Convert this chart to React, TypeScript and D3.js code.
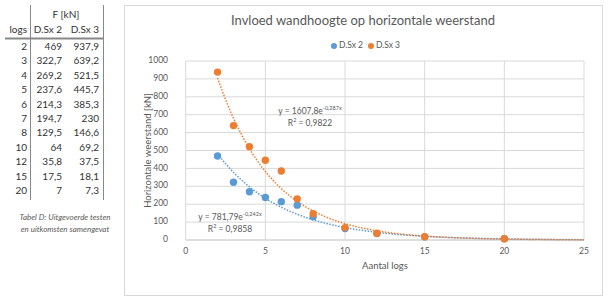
import { useEffect, useRef } from "react";
import * as d3 from "d3";

// Test results: number of logs and horizontal resistance F [kN]
const logs = [2, 3, 4, 5, 6, 7, 8, 10, 12, 15, 20];
const dsx2 = [469, 322.7, 269.2, 237.6, 214.3, 194.7, 129.5, 64, 35.8, 17.5, 7];
const dsx3 = [937.9, 639.2, 521.5, 445.7, 385.3, 230, 146.6, 69.2, 37.5, 18.1, 7.3];
const dsx2Labels = ["469", "322,7", "269,2", "237,6", "214,3", "194,7", "129,5", "64", "35,8", "17,5", "7"];
const dsx3Labels = ["937,9", "639,2", "521,5", "445,7", "385,3", "230", "146,6", "69,2", "37,5", "18,1", "7,3"];

// Exponential trendlines y = a * e^(b x)
const fit2 = { a: 781.79, b: -0.242, eq: "781,79", exp: "-0,242x", r2: "0,9858" };
const fit3 = { a: 1607.8, b: -0.287, eq: "1607,8", exp: "-0,287x", r2: "0,9822" };
const xTicks = [0, 5, 10, 15, 20, 25];
const yTicks = [0, 100, 200, 300, 400, 500, 600, 700, 800, 900, 1000];

const BLUE = "#5B9BD5";
const ORANGE = "#ED7D31";
const GREY = "#595959";
const FONT = "Lato, 'Open Sans', sans-serif";

const App = () => {
  const svgRef = useRef<SVGSVGElement>(null);

  useEffect(() => {
    if (!svgRef.current) return;
    const svg = d3.select(svgRef.current);
    svg.selectAll("*").remove();
    svg.style("font-family", FONT);

    // ---- table on the left ----
    const tbl = svg.append("g");
    const rowY0 = 47.5;
    const rowH = 14.4;
    tbl.append("line").attr("x1", 30.5).attr("x2", 30.5).attr("y1", 5).attr("y2", 200).attr("stroke", "#888").attr("stroke-width", 1);
    tbl.append("line").attr("x1", 103.5).attr("x2", 103.5).attr("y1", 5).attr("y2", 200).attr("stroke", "#888").attr("stroke-width", 1);
    tbl.append("line").attr("x1", 5).attr("x2", 104).attr("y1", 38.5).attr("y2", 38.5).attr("stroke", "#888").attr("stroke-width", 2);
    tbl.append("text").attr("x", 66).attr("y", 15).attr("text-anchor", "middle").attr("dominant-baseline", "middle")
      .attr("font-size", 10).attr("fill", "#333").text("F [kN]");
    tbl.append("text").attr("x", 27).attr("y", 30).attr("text-anchor", "end").attr("dominant-baseline", "middle")
      .attr("font-size", 10).attr("fill", "#333").text("logs");
    tbl.append("text").attr("x", 62).attr("y", 30).attr("text-anchor", "end").attr("dominant-baseline", "middle")
      .attr("font-size", 10).attr("fill", "#333").text("D.Sx 2");
    tbl.append("text").attr("x", 99).attr("y", 30).attr("text-anchor", "end").attr("dominant-baseline", "middle")
      .attr("font-size", 10).attr("fill", "#333").text("D.Sx 3");
    logs.forEach((n, i) => {
      const y = rowY0 + i * rowH;
      const cells: [number, string][] = [[27, String(n)], [62, dsx2Labels[i]], [99, dsx3Labels[i]]];
      cells.forEach(([x, t]) => {
        tbl.append("text").attr("x", x).attr("y", y).attr("text-anchor", "end").attr("dominant-baseline", "middle")
          .attr("font-size", 10).attr("fill", "#333").text(t);
      });
    });
    ["Tabel D: Uitgevoerde testen", "en uitkomsten samengevat"].forEach((t, i) => {
      tbl.append("text").attr("x", 65).attr("y", 218 + i * 12).attr("text-anchor", "middle").attr("dominant-baseline", "middle")
        .attr("font-size", 8).attr("font-style", "italic").attr("fill", GREY).text(t);
    });

    // ---- chart frame ----
    svg.append("rect").attr("x", 124.5).attr("y", 5.5).attr("width", 478).attr("height", 290)
      .attr("fill", "#fff").attr("stroke", "#D9D9D9");

    svg.append("text").attr("x", 363).attr("y", 22).attr("text-anchor", "middle").attr("dominant-baseline", "middle")
      .attr("font-size", 13.5).attr("textLength", 264).attr("lengthAdjust", "spacingAndGlyphs")
      .attr("fill", GREY).text("Invloed wandhoogte op horizontale weerstand");

    // legend
    const legend = [["D.Sx 2", BLUE, 334], ["D.Sx 3", ORANGE, 371]] as const;
    legend.forEach(([label, color, x]) => {
      svg.append("circle").attr("cx", x).attr("cy", 46).attr("r", 3).attr("fill", color);
      svg.append("text").attr("x", x + 5).attr("y", 46).attr("dominant-baseline", "middle")
        .attr("font-size", 8.5).attr("fill", GREY).text(label);
    });

    const x = d3.scaleLinear().domain([0, 25]).range([185.7, 584]);
    const y = d3.scaleLinear().domain([0, 1000]).range([240, 61]);

    const grid = svg.append("g");
    grid.selectAll(".hg").data(yTicks).enter().append("line")
      .attr("x1", x(0)).attr("x2", x(25)).attr("y1", (d) => y(d)).attr("y2", (d) => y(d))
      .attr("stroke", (d) => (d === 0 ? "#BFBFBF" : "#D9D9D9")).attr("stroke-width", 1);
    grid.selectAll(".vg").data(xTicks).enter().append("line")
      .attr("x1", (d) => x(d)).attr("x2", (d) => x(d)).attr("y1", y(0)).attr("y2", y(1000))
      .attr("stroke", "#D9D9D9").attr("stroke-width", 1);

    svg.selectAll(".yt").data(yTicks).enter().append("text")
      .attr("x", 168).attr("y", (d) => y(d)).attr("text-anchor", "end").attr("dominant-baseline", "middle")
      .attr("font-size", 8.5).attr("fill", GREY).text((d) => String(d));
    svg.selectAll(".xt").data(xTicks).enter().append("text")
      .attr("x", (d) => x(d)).attr("y", 252).attr("text-anchor", "middle").attr("dominant-baseline", "middle")
      .attr("font-size", 8.5).attr("fill", GREY).text((d) => String(d));

    svg.append("text").attr("x", 385).attr("y", 267).attr("text-anchor", "middle").attr("dominant-baseline", "middle")
      .attr("font-size", 9.5).attr("fill", GREY).text("Aantal logs");
    svg.append("text").attr("transform", `translate(149,${(y(0) + y(1000)) / 2}) rotate(-90)`)
      .attr("text-anchor", "middle").attr("dominant-baseline", "middle")
      .attr("font-size", 9.5).attr("fill", GREY).text("Horizontale weerstand [kN]");

    // trendlines from x=2 forward to the end of the axis
    const trendX = d3.range(2, 25.01, 0.25);
    const line = d3.line<number[]>().x((d) => x(d[0])).y((d) => y(d[1]));
    [[fit2, BLUE], [fit3, ORANGE]].forEach(([f, color]: any) => {
      const pts = trendX.map((t) => [t, f.a * Math.exp(f.b * t)]);
      svg.append("path").datum(pts).attr("d", line)
        .attr("fill", "none").attr("stroke", color).attr("stroke-width", 1.5).attr("stroke-dasharray", "1.5,1.5");
    });

    // points
    [[dsx2, BLUE], [dsx3, ORANGE]].forEach(([vals, color]: any) => {
      svg.append("g").selectAll("circle").data(vals as number[]).enter().append("circle")
        .attr("cx", (_d, i) => x(logs[i])).attr("cy", (d) => y(d)).attr("r", 3.7).attr("fill", color);
    });

    // trendline equations
    const eqLabel = (cx: number, cy: number, f: typeof fit2) => {
      const t = svg.append("text").attr("x", cx).attr("y", cy).attr("text-anchor", "middle")
        .attr("dominant-baseline", "middle").attr("font-size", 8.5).attr("fill", GREY);
      t.append("tspan").text(`y = ${f.eq}e`);
      t.append("tspan").attr("font-size", 5.5).attr("dy", -3).text(f.exp);
      const r = svg.append("text").attr("x", cx).attr("y", cy + 12).attr("text-anchor", "middle")
        .attr("dominant-baseline", "middle").attr("font-size", 8.5).attr("fill", GREY);
      r.append("tspan").text("R");
      r.append("tspan").attr("font-size", 5.5).attr("dy", -3).text("2");
      r.append("tspan").attr("dy", 3).text(" = " + f.r2);
    };
    eqLabel(310, 112, fit3);
    eqLabel(230, 218, fit2);
  }, []);

  return <svg ref={svgRef} width={616} height={300} style={{ position: "fixed", left: 0, top: 0, background: "#fff" }} />;
};

export default App;
